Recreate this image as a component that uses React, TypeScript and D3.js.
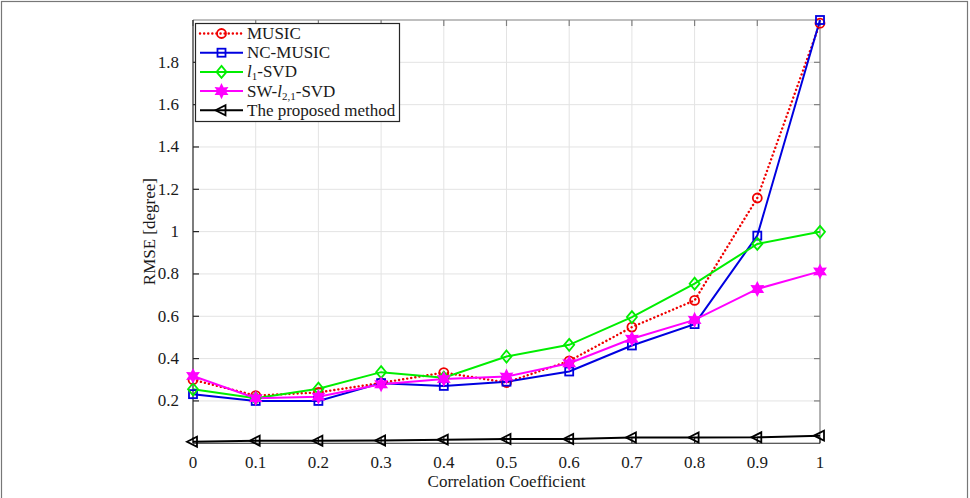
import React, { useEffect, useRef } from 'react';
import * as d3 from 'd3';

const xValues = [0, 0.1, 0.2, 0.3, 0.4, 0.5, 0.6, 0.7, 0.8, 0.9, 1];
const musicRmse = [0.3, 0.225, 0.24, 0.285, 0.334, 0.287, 0.389, 0.549, 0.675, 1.159, 1.985];
const ncMusicRmse = [0.232, 0.2, 0.2, 0.284, 0.271, 0.291, 0.339, 0.462, 0.563, 0.981, 2.0];
const l1SvdRmse = [0.255, 0.213, 0.258, 0.336, 0.31, 0.41, 0.465, 0.596, 0.754, 0.942, 0.999];
const swSvdRmse = [0.318, 0.213, 0.22, 0.279, 0.304, 0.315, 0.378, 0.494, 0.583, 0.729, 0.812];
const proposedRmse = [0.007, 0.012, 0.012, 0.013, 0.017, 0.02, 0.02, 0.027, 0.027, 0.028, 0.036];
const xTicks = [0, 0.1, 0.2, 0.3, 0.4, 0.5, 0.6, 0.7, 0.8, 0.9, 1];
const yTicks = [0.2, 0.4, 0.6, 0.8, 1, 1.2, 1.4, 1.6, 1.8];

const series = [
  { name: 'MUSIC', values: musicRmse, color: '#f00000', marker: 'circle', dash: '0.1,4' },
  { name: 'NC-MUSIC', values: ncMusicRmse, color: '#0000e0', marker: 'square', dash: null },
  { name: 'l1-SVD', values: l1SvdRmse, color: '#00ee00', marker: 'diamond', dash: null },
  { name: 'SW-l21-SVD', values: swSvdRmse, color: '#ff00ff', marker: 'star', dash: null },
  { name: 'The proposed method', values: proposedRmse, color: '#000000', marker: 'triangle', dash: null },
];

const FONT = '"Liberation Serif", "DejaVu Serif", serif';

function drawMarker(g: any, type: string, x: number, y: number, color: string) {
  const m = g.append('g').attr('transform', `translate(${x},${y})`)
    .attr('fill', 'none').attr('stroke', color).attr('stroke-width', 1.8);
  if (type === 'circle') {
    m.append('circle').attr('r', 4.5);
  } else if (type === 'square') {
    m.append('rect').attr('x', -4).attr('y', -4).attr('width', 8).attr('height', 8);
  } else if (type === 'diamond') {
    m.append('path').attr('d', 'M0,-6L5,0L0,6L-5,0Z');
  } else if (type === 'star') {
    const pts: string[] = [];
    for (let i = 0; i < 12; i++) {
      const r = i % 2 === 0 ? 6 : 3.2;
      const a = (Math.PI / 6) * i - Math.PI / 2;
      pts.push(`${r * Math.cos(a)},${r * Math.sin(a)}`);
    }
    m.append('path').attr('d', 'M' + pts.join('L') + 'Z').attr('fill', color);
  } else if (type === 'triangle') {
    m.append('path').attr('d', 'M-6,0L4,-5L4,5Z');
  }
}

const App = () => {
  const svgRef = useRef<SVGSVGElement>(null);

  useEffect(() => {
    const svg = d3.select(svgRef.current);
    svg.selectAll('*').remove();

    const left = 193, right = 820, top = 20, bottom = 443.25;
    const x = d3.scaleLinear().domain([0, 1]).range([left, right]);
    const y = d3.scaleLinear().domain([0, 2]).range([bottom, top]);

    // figure frame
    svg.append('rect').attr('x', 1.5).attr('y', 1.5).attr('width', 966).attr('height', 510)
      .attr('fill', 'white').attr('stroke', '#777').attr('stroke-width', 1.2);

    // grid
    const grid = svg.append('g').attr('stroke', '#e3e3e3').attr('stroke-width', 1);
    xTicks.slice(1, -1).forEach(t => {
      grid.append('line').attr('x1', x(t)).attr('x2', x(t)).attr('y1', top).attr('y2', bottom);
    });
    yTicks.forEach(t => {
      grid.append('line').attr('x1', left).attr('x2', right).attr('y1', y(t)).attr('y2', y(t));
    });

    // box: top and right gray with inward ticks
    const box = svg.append('g').attr('stroke', '#808080').attr('stroke-width', 1.2);
    box.append('line').attr('x1', left).attr('x2', right).attr('y1', top).attr('y2', top);
    box.append('line').attr('x1', right).attr('x2', right).attr('y1', top).attr('y2', bottom);
    xTicks.forEach(t => {
      box.append('line').attr('x1', x(t)).attr('x2', x(t)).attr('y1', top).attr('y2', top + 6);
    });
    yTicks.forEach(t => {
      box.append('line').attr('x1', right).attr('x2', right - 6).attr('y1', y(t)).attr('y2', y(t));
    });

    // left and bottom axes
    const axes = svg.append('g').attr('stroke', '#262626').attr('stroke-width', 1.2);
    axes.append('line').attr('x1', left).attr('x2', left).attr('y1', top).attr('y2', bottom);
    axes.append('line').attr('x1', left).attr('x2', right).attr('y1', bottom).attr('y2', bottom);
    xTicks.forEach(t => {
      axes.append('line').attr('x1', x(t)).attr('x2', x(t)).attr('y1', bottom).attr('y2', bottom - 6);
    });
    yTicks.forEach(t => {
      axes.append('line').attr('x1', left).attr('x2', left + 6).attr('y1', y(t)).attr('y2', y(t));
    });

    // tick labels
    xTicks.forEach(t => {
      svg.append('text').attr('x', x(t)).attr('y', 468).attr('text-anchor', 'middle')
        .style('font-family', FONT).style('font-size', '17px').attr('fill', '#1a1a1a').text(String(t));
    });
    yTicks.forEach(t => {
      svg.append('text').attr('x', 179).attr('y', y(t) + 5.5).attr('text-anchor', 'end')
        .style('font-family', FONT).style('font-size', '17px').attr('fill', '#1a1a1a').text(String(t));
    });

    // axis labels
    svg.append('text').attr('x', (left + right) / 2).attr('y', 487).attr('text-anchor', 'middle')
      .style('font-family', FONT).style('font-size', '17px').attr('fill', '#1a1a1a')
      .text('Correlation Coefficient');
    svg.append('text').attr('transform', `translate(155,${(top + bottom) / 2}) rotate(-90)`)
      .attr('text-anchor', 'middle')
      .style('font-family', FONT).style('font-size', '17px').attr('fill', '#1a1a1a')
      .text('RMSE [degree]');

    // series
    const line = d3.line<number>().x((_, i) => x(xValues[i])).y(d => y(d));
    series.forEach(s => {
      svg.append('path').attr('d', line(s.values)).attr('fill', 'none')
        .attr('stroke', s.color).attr('stroke-width', s.dash ? 2.4 : 2)
        .attr('stroke-dasharray', s.dash).attr('stroke-linecap', s.dash ? 'round' : 'butt');
    });
    series.forEach(s => {
      s.values.forEach((v, i) => drawMarker(svg, s.marker, x(xValues[i]), y(v), s.color));
    });

    // legend
    const lg = svg.append('g');
    lg.append('rect').attr('x', 195.5).attr('y', 23.5).attr('width', 204).attr('height', 98)
      .attr('fill', 'white').attr('stroke', '#262626').attr('stroke-width', 1.2);
    series.forEach((s, i) => {
      const ly = 33.5 + i * 19.2;
      lg.append('line').attr('x1', 200).attr('x2', 243).attr('y1', ly).attr('y2', ly)
        .attr('stroke', s.color).attr('stroke-width', s.dash ? 2.4 : 2)
        .attr('stroke-dasharray', s.dash).attr('stroke-linecap', s.dash ? 'round' : 'butt');
      drawMarker(lg, s.marker, 221.5, ly, s.color);
      const t = lg.append('text').attr('x', 247).attr('y', ly + 5.5)
        .style('font-family', FONT).style('font-size', '17px').attr('fill', '#1a1a1a');
      if (s.name === 'l1-SVD') {
        t.append('tspan').style('font-style', 'italic').text('l');
        t.append('tspan').attr('dy', 3).style('font-size', '11px').text('1');
        t.append('tspan').attr('dy', -3).text('-SVD');
      } else if (s.name === 'SW-l21-SVD') {
        t.append('tspan').text('SW-');
        t.append('tspan').style('font-style', 'italic').text('l');
        t.append('tspan').attr('dy', 3).style('font-size', '11px').text('2,1');
        t.append('tspan').attr('dy', -3).text('-SVD');
      } else {
        t.text(s.name);
      }
    });
  }, []);

  return (
    <div>
      <svg ref={svgRef} width={970} height={498} style={{ position: 'absolute', left: 0, top: 0 }} />
    </div>
  );
};

export default App;
